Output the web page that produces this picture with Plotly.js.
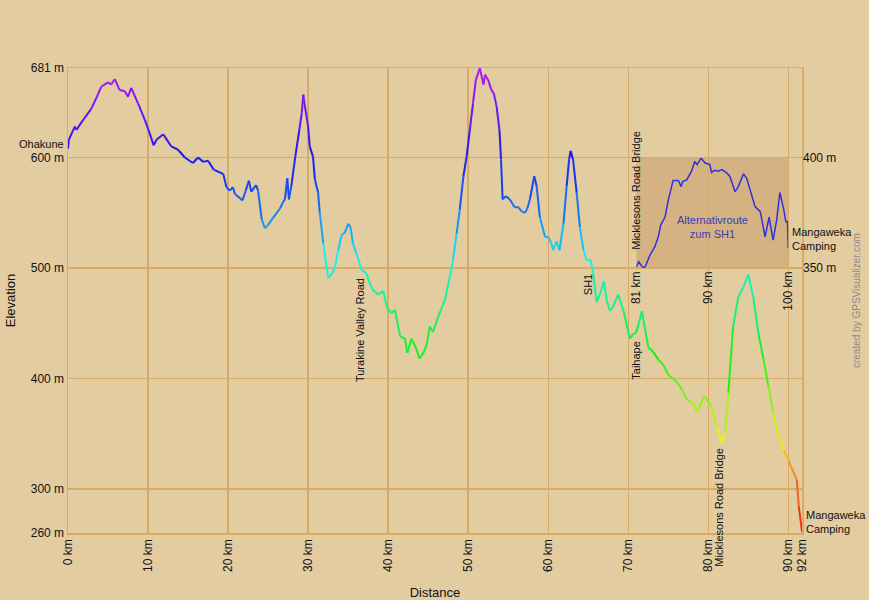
<!DOCTYPE html>
<html>
<head>
<meta charset="utf-8">
<script src="https://cdn.plot.ly/plotly-3.0.1.min.js"></script>
<style>
html, body { margin: 0; padding: 0; background: #e3cca0; }
#chart { width: 869px; height: 600px; }
</style>
</head>
<body>
<div id="chart"></div>
<script>
// main route: distance (km) and elevation (m)
const trackKm = [
    0, 0.1, 0.85, 1.05, 1.9, 2.9, 3.55, 4.15, 5.0, 5.4,
    5.85, 6.45, 7.1, 7.5, 7.9, 8.75, 9.6, 10.2, 10.7, 11.05,
    11.9, 12.9, 13.75, 14.6, 15.6, 16.25, 16.9, 17.5, 18.2, 19.4,
    19.8, 20.2, 20.6, 20.85, 21.5, 21.8, 22.2, 22.6, 22.9, 23.5,
    23.75, 24.2, 24.6, 25.0, 25.6, 26.5, 26.9, 27.1, 27.4, 27.6,
    27.9, 28.4, 28.9, 29.2, 29.4, 29.5, 30.0, 30.2, 30.6, 30.85,
    31.25, 31.45, 31.9, 32.5, 32.9, 33.35, 33.75, 34.2, 34.6, 35.0,
    35.3, 35.6, 36.05, 36.7, 37.3, 37.7, 38.1, 38.75, 39.4, 39.8,
    40.4, 40.85, 41.5, 42.1, 42.4, 42.9, 43.5, 43.9, 44.4, 44.8,
    45.2, 45.6, 46.25, 46.7, 47.1, 47.7, 48.1, 48.55, 48.95, 49.4,
    49.8, 50.2, 50.6, 50.95, 51.45, 51.9, 52.1, 52.5, 52.9, 53.2,
    53.55, 53.9, 54.1, 54.3, 54.7, 55.2, 55.8, 56.25, 56.7, 57.1,
    57.4, 57.7, 58.25, 58.55, 58.95, 59.6, 60.0, 60.4, 60.6, 61.05,
    61.4, 61.9, 62.3, 62.6, 62.8, 63.1, 63.55, 63.95, 64.4, 64.8,
    65.3, 65.6, 66.05, 66.5, 66.95, 67.3, 67.7, 68.1, 68.75, 69.4,
    70.2, 70.6, 70.95, 71.25, 71.7, 72.1, 72.5, 73.1, 73.75, 74.4,
    75.0, 76.05, 76.7, 77.3, 78.1, 78.6, 78.95, 79.5, 80.0, 80.4,
    81.05, 81.7, 82.1, 82.5, 83.1, 83.75, 84.4, 85.0, 85.6, 86.25,
    86.9, 87.5, 88.1, 88.75, 89.4, 90.0, 90.4, 91.05, 91.3, 91.7
];
const trackElev = [
    608, 616, 628, 625, 634, 644, 654, 664, 668, 666,
    671, 661, 660, 655, 663, 649, 634, 622, 611, 616,
    621, 610, 607, 600, 595, 600, 596, 597, 589, 585,
    573, 570, 573, 567, 563, 561, 570, 579, 569, 575,
    570, 544, 536, 539, 545, 554, 560, 562, 581, 562,
    574, 601, 625, 640, 657, 651, 628, 610, 601, 580,
    568, 550, 522, 491, 494, 500, 516, 530, 532, 540,
    537, 522, 513, 498, 495, 486, 480, 476, 479, 465,
    459, 462, 438, 436, 423, 436, 427, 418, 423, 430,
    447, 442, 456, 464, 471, 492, 507, 531, 553, 583,
    601, 625, 649, 670, 681, 666, 675, 670, 661, 658,
    646, 625, 598, 562, 565, 562, 555, 555, 551, 550,
    554, 562, 583, 574, 546, 528, 528, 522, 516, 524,
    516, 540, 574, 598, 606, 598, 568, 537, 516, 507,
    507, 495, 469, 477, 488, 471, 461, 465, 476, 461,
    436, 440, 441, 448, 461, 444, 428, 424, 417, 412,
    403, 397, 390, 381, 377, 370, 375, 384, 379, 375,
    356, 342, 350, 387, 447, 474, 483, 494, 474, 441,
    417, 393, 369, 349, 335, 326, 319, 308, 284, 261
];

// alternative route to SH1 (inset)
const altKm = [
    81.0, 81.3, 81.8, 82.1, 82.7, 83.3, 83.75, 84.05, 84.6, 85.0,
    85.6, 86.25, 86.6, 86.8, 87.3, 87.9, 88.3, 88.6, 89.1, 89.6,
    90.2, 90.4, 90.8, 91.25, 91.7, 92.3, 92.7, 93.05, 93.35, 93.75,
    94.4, 94.8, 95.4, 95.85, 96.5, 96.75, 97.1, 97.6, 98.1, 98.55,
    98.95, 99.4, 99.7, 99.9, 100.0
];
const altElev = [
    350.5, 352.8, 350.2, 350.5, 355.8, 359.6, 364.2, 369.5, 373.3, 381,
    389.8, 389.8, 387, 389.3, 390, 394, 398.4, 397, 400, 397.7,
    397, 393.4, 394.4, 394, 394.7, 393.2, 391.6, 387.8, 384.7, 387,
    392.8, 390.8, 384, 377.9, 375.6, 371, 364.2, 373.1, 362.7, 371.8,
    384.3, 377.2, 371, 371, 359
];

// waypoints
const wptName = ['Ohakune', 'Turakine Valley Road', 'SH1', 'Taihape', 'Micklesons Road Bridge', 'Mangaweka<br>Camping'];
const wptKm = [0, 36.5, 64.9, 70.85, 81.3, 91.7];
const wptElev = [608, 500, 507, 441, 352, 261];
const altWptName = ['Micklesons Road Bridge', 'Mangaweka<br>Camping'];
const altWptKm = [81, 100];
const altWptElev = [350.5, 359];

// ticks
const xTickVals = [0, 10, 20, 30, 40, 50, 60, 70, 80, 90, 91.7];
const xTickText = ['0 km', '10 km', '20 km', '30 km', '40 km', '50 km', '60 km', '70 km', '80 km', '90 km', '92 km'];
const yTickVals = [260, 300, 400, 500, 600, 681];
const yTickText = ['260 m', '300 m', '400 m', '500 m', '600 m', '681 m'];
const altXTickVals = [81, 90, 100];
const altXTickText = ['81 km', '90 km', '100 km'];
const altYTickVals = [350, 400];
const altYTickText = ['350 m', '400 m'];

// elevation -> hue colour scale
const hueStops = [[260, 0], [320, 35], [345, 60], [420, 120], [490, 165], [540, 205], [570, 225], [600, 240], [640, 262], [681, 285]];
function elevColor(e) {
    let h = hueStops[hueStops.length - 1][1];
    for (let i = 0; i < hueStops.length - 1; i++) {
        const a = hueStops[i], b = hueStops[i + 1];
        if (e <= b[0]) {
            const t = Math.max(0, (e - a[0]) / (b[0] - a[0]));
            h = a[1] + t * (b[1] - a[1]);
            break;
        }
    }
    const s = 0.9, v = 0.95;
    const c = v * s, x = c * (1 - Math.abs((h / 60) % 2 - 1)), m = v - c;
    let r, g, bl;
    if (h < 60) [r, g, bl] = [c, x, 0];
    else if (h < 120) [r, g, bl] = [x, c, 0];
    else if (h < 180) [r, g, bl] = [0, c, x];
    else if (h < 240) [r, g, bl] = [0, x, c];
    else if (h < 300) [r, g, bl] = [x, 0, c];
    else [r, g, bl] = [c, 0, x];
    return 'rgb(' + Math.round((r + m) * 255) + ',' + Math.round((g + m) * 255) + ',' + Math.round((bl + m) * 255) + ')';
}

const traces = [];
for (let i = 0; i < trackKm.length - 1; i++) {
    traces.push({
        x: [trackKm[i], trackKm[i + 1]],
        y: [trackElev[i], trackElev[i + 1]],
        mode: 'lines',
        line: { width: 2, color: elevColor((trackElev[i] + trackElev[i + 1]) / 2) },
        hoverinfo: 'skip',
    });
}
traces.push({
    x: altKm,
    y: altElev,
    xaxis: 'x2',
    yaxis: 'y2',
    mode: 'lines',
    line: { width: 1.5, color: '#3030e0' },
    hoverinfo: 'skip',
});

const fontFamily = 'Liberation Sans, Arial, sans-serif';
const gridColor = '#d9a966';
const bg = '#e3cca0';
const labelFont = { size: 11, color: '#111', family: fontFamily };

const annotations = [
    { x: wptKm[0], y: wptElev[0], text: wptName[0], xanchor: 'right', yanchor: 'bottom', xshift: -2, yshift: -3 },
    { x: wptKm[1], y: wptElev[1], text: wptName[1], textangle: -90, xanchor: 'center', yanchor: 'top', yshift: -8 },
    { x: wptKm[2], y: wptElev[2], text: wptName[2], textangle: -90, xanchor: 'center', yanchor: 'top', yshift: -12 },
    { x: wptKm[3], y: wptElev[3], text: wptName[3], textangle: -90, xanchor: 'center', yanchor: 'top', yshift: -6 },
    { x: wptKm[4], y: wptElev[4], text: wptName[4], textangle: -90, xanchor: 'center', yanchor: 'top', yshift: -14 },
    { x: wptKm[5], y: wptElev[5], text: wptName[5], align: 'left', xanchor: 'left', yanchor: 'bottom', xshift: 2, yshift: -5 },
    { x: altWptKm[0], y: altWptElev[0], xref: 'x2', yref: 'y2', text: altWptName[0], textangle: -90, xanchor: 'center', yanchor: 'bottom', yshift: 15 },
    { x: altWptKm[1], y: altWptElev[1], xref: 'x2', yref: 'y2', text: altWptName[1], align: 'left', xanchor: 'left', yanchor: 'bottom', xshift: 2, yshift: -6 },
    { x: 0.5, y: 0.37, xref: 'x2 domain', yref: 'y2 domain', text: 'Alternativroute<br>zum SH1', font: { size: 11, color: '#3a3ac0', family: fontFamily } },
    { x: 1.0845, y: 0.5, xref: 'paper', yref: 'paper', text: 'created by GPSVisualizer.com', textangle: -90, font: { size: 10, color: '#8c8c8c', family: fontFamily } },
].map(a => Object.assign({ xref: 'x', yref: 'y', showarrow: false, font: labelFont }, a));

const layout = {
    width: 869,
    height: 600,
    margin: { l: 68, r: 67, t: 68, b: 67 },
    paper_bgcolor: bg,
    plot_bgcolor: 'rgba(0,0,0,0)', // paper colour shows through, so the inset box is not hidden
    showlegend: false,
    hovermode: false,
    font: { family: fontFamily, size: 12, color: '#111' },
    xaxis: {
        range: [0, 91.7],
        tickvals: xTickVals,
        ticktext: xTickText,
        tickangle: -90,
        ticks: '',
        showgrid: true,
        gridcolor: gridColor,
        gridwidth: 1.5,
        showline: true,
        linecolor: gridColor,
        linewidth: 1.5,
        mirror: true,
        zeroline: false,
        title: { text: 'Distance', font: { size: 13 }, standoff: 20 },
    },
    yaxis: {
        range: [260, 681],
        tickvals: yTickVals,
        ticktext: yTickText,
        ticks: '',
        showgrid: true,
        gridcolor: gridColor,
        gridwidth: 1.5,
        showline: true,
        linecolor: gridColor,
        linewidth: 1.5,
        mirror: true,
        zeroline: false,
        title: { text: 'Elevation', font: { size: 13 }, standoff: 12 },
    },
    xaxis2: {
        domain: [0.7743, 0.9813],
        range: [81, 100],
        anchor: 'y2',
        tickvals: altXTickVals,
        ticktext: altXTickText,
        tickangle: -90,
        ticks: '',
        showgrid: false,
        zeroline: false,
        showline: false,
    },
    yaxis2: {
        domain: [0.5699, 0.8065],
        range: [350, 400],
        anchor: 'free',
        position: 1,
        side: 'right',
        tickvals: altYTickVals,
        ticktext: altYTickText,
        ticks: '',
        showgrid: false,
        zeroline: false,
        showline: false,
    },
    // darker box behind the inset
    shapes: [{
        type: 'rect',
        xref: 'x2 domain', yref: 'y2 domain',
        x0: 0, x1: 1, y0: 0, y1: 1,
        fillcolor: 'rgba(190,139,86,0.4)',
        line: { width: 0 },
        layer: 'below',
    }],
    annotations: annotations,
};

Plotly.newPlot('chart', traces, layout, { displayModeBar: false, staticPlot: true });
</script>
</body>
</html>
